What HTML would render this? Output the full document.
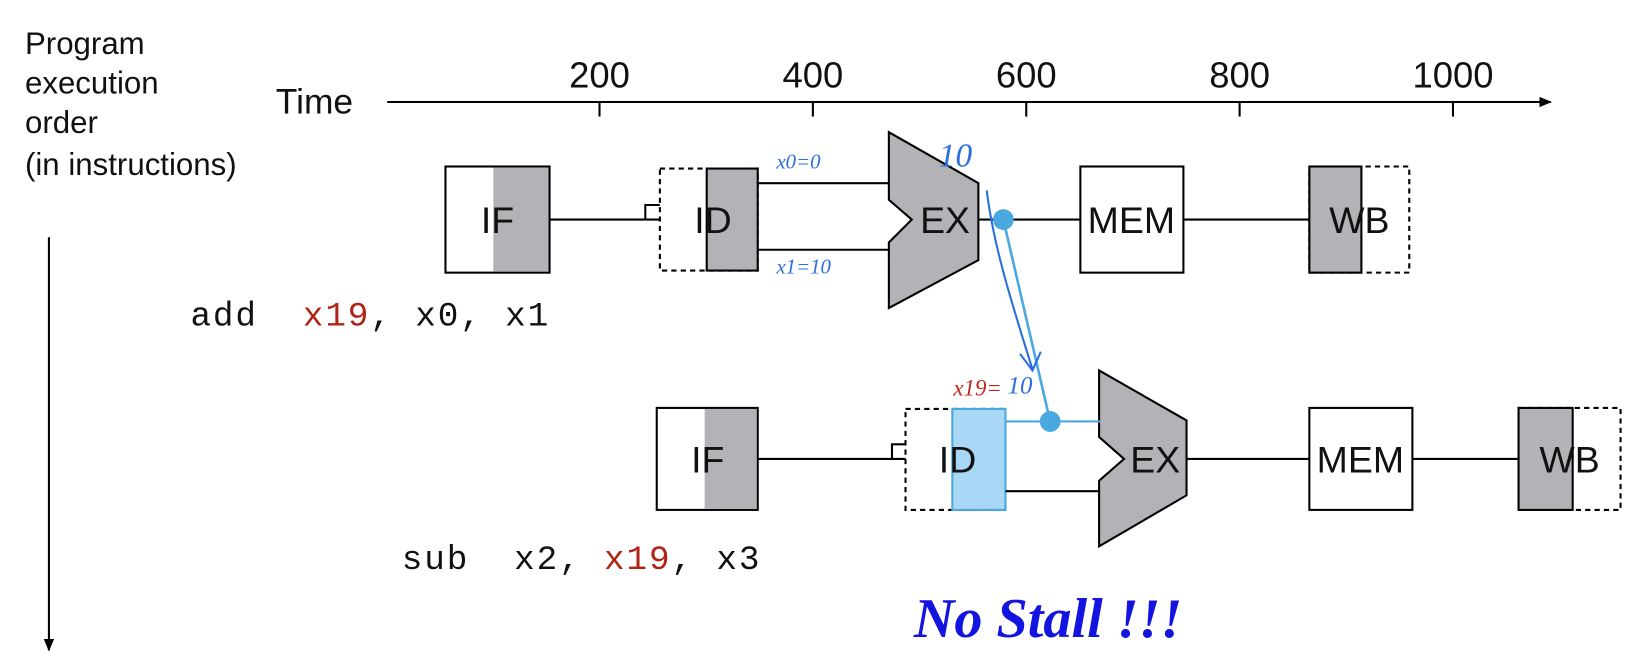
<!DOCTYPE html>
<html><head><meta charset="utf-8"><style>
html,body{margin:0;padding:0;background:#fff;}
svg{display:block;}
</style></head><body>
<svg width="1632" height="666" viewBox="0 0 1568 640" preserveAspectRatio="none" xmlns="http://www.w3.org/2000/svg" font-family="Liberation Sans, sans-serif">
<defs>
<marker id="ar" markerWidth="12" markerHeight="10" refX="11" refY="5" orient="auto" markerUnits="userSpaceOnUse"><path d="M0,0 L12,5 L0,10 z" fill="#000"/></marker>
</defs>
<g font-size="30" fill="#111">
<text x="24" y="52">Program</text>
<text x="24" y="90">execution</text>
<text x="24" y="128">order</text>
<text x="24" y="168">(in instructions)</text>
</g>
<line x1="47" y1="228" x2="47" y2="625" stroke="#000" stroke-width="2" marker-end="url(#ar)"/>
<text x="265" y="109" font-size="34" fill="#111">Time</text>
<line x1="372" y1="98" x2="1490" y2="98" stroke="#000" stroke-width="2" marker-end="url(#ar)"/>
<g stroke="#000" stroke-width="2">
<line x1="576" y1="98" x2="576" y2="112"/><line x1="781" y1="98" x2="781" y2="112"/><line x1="986" y1="98" x2="986" y2="112"/><line x1="1191" y1="98" x2="1191" y2="112"/><line x1="1396" y1="98" x2="1396" y2="112"/>
</g>
<g font-size="35" fill="#111" text-anchor="middle">
<text x="576" y="84">200</text><text x="781" y="84">400</text><text x="986" y="84">600</text><text x="1191" y="84">800</text><text x="1396" y="84">1000</text>
</g>

<g stroke="#000" stroke-width="2">
<rect x="428" y="160" width="100" height="102" fill="#fff"/>
<rect x="474" y="161" width="53" height="100" fill="#b3b3b7" stroke="none"/>
<line x1="528" y1="211" x2="634" y2="211"/>
<polyline points="620,211 620,197 634,197" fill="none"/>
<rect x="634" y="162" width="94" height="98" fill="none" stroke-dasharray="5,4"/>
<rect x="679" y="162" width="49" height="98" fill="#b3b3b7"/>
<line x1="728" y1="176" x2="855" y2="176"/>
<line x1="728" y1="240" x2="855" y2="240"/>
<polygon points="854,127 940,176 940,250 854,296 854,233 876,211 854,192" fill="#b3b3b7"/>
<line x1="940" y1="211" x2="1038" y2="211"/>
<rect x="1038" y="160" width="99" height="102" fill="#fff"/>
<line x1="1137" y1="211" x2="1258" y2="211"/>
<rect x="1258" y="160" width="96" height="102" fill="none" stroke-dasharray="5,4"/>
<rect x="1258" y="160" width="50" height="102" fill="#b3b3b7"/>
</g>
<g font-size="36" fill="#111" text-anchor="middle">
<text x="478" y="224">IF</text><text x="685" y="224">ID</text><text x="908" y="224">EX</text><text x="1087" y="224">MEM</text><text x="1306" y="224">WB</text>
</g>

<g stroke="#000" stroke-width="2">
<rect x="631" y="392" width="97" height="98" fill="#fff"/>
<rect x="677" y="393" width="50" height="96" fill="#b3b3b7" stroke="none"/>
<line x1="728" y1="441" x2="870" y2="441"/>
<polyline points="857,441 857,427 870,427" fill="none"/>
<rect x="870" y="393" width="96" height="97" fill="none" stroke-dasharray="5,4"/>
<rect x="915" y="393" width="51" height="97" fill="#a8d8f5" stroke="#4aa8e0"/>
<line x1="966" y1="472" x2="1057" y2="472"/>
<polygon points="1056,356 1140,404 1140,476 1056,525 1056,462 1080,441 1056,420" fill="#b3b3b7"/>
<line x1="1140" y1="441" x2="1258" y2="441"/>
<rect x="1258" y="392" width="99" height="98" fill="#fff"/>
<line x1="1357" y1="441" x2="1459" y2="441"/>
<rect x="1459" y="392" width="98" height="98" fill="none" stroke-dasharray="5,4"/>
<rect x="1459" y="392" width="52" height="98" fill="#b3b3b7"/>
</g>
<line x1="966" y1="405" x2="1057" y2="405" stroke="#4aa8e0" stroke-width="2"/>
<g font-size="36" fill="#111" text-anchor="middle">
<text x="680" y="454">IF</text><text x="920" y="454">ID</text><text x="1110" y="454">EX</text><text x="1307" y="454">MEM</text><text x="1508" y="454">WB</text>
</g>

<line x1="964" y1="211" x2="1009" y2="405" stroke="#4aa8e0" stroke-width="2.5"/>
<circle cx="964" cy="211" r="10" fill="#4aa8e0"/>
<circle cx="1009" cy="405" r="10" fill="#4aa8e0"/>
<path d="M948,183 C955,240 975,300 992,355" fill="none" stroke="#2a6fe0" stroke-width="2"/>
<path d="M980,340 L992,356 L1000,338" fill="none" stroke="#2a6fe0" stroke-width="2"/>

<g font-family="Liberation Serif, serif" font-style="italic" fill="#2a6fe0">
<text x="746" y="162" font-size="20">x0=0</text>
<text x="746" y="263" font-size="20">x1=10</text>
<text x="902" y="160" font-size="32">10</text>
<text x="968" y="378" font-size="24">10</text>
</g>
<text x="916" y="380" font-family="Liberation Serif, serif" font-style="italic" font-size="22" fill="#c0281c">x19=</text>

<g font-family="Liberation Mono, monospace" font-size="33" fill="#111" letter-spacing="1.8">
<text x="183" y="313">add&#160;&#160;<tspan fill="#b02418">x19</tspan>, x0, x1</text>
<text x="386" y="547">sub&#160;&#160;x2, <tspan fill="#b02418">x19</tspan>, x3</text>
</g>
<text x="878" y="612" font-family="Liberation Serif, serif" font-weight="bold" font-style="italic" font-size="54" fill="#1414e0">No Stall !!!</text>
</svg>
</body></html>
